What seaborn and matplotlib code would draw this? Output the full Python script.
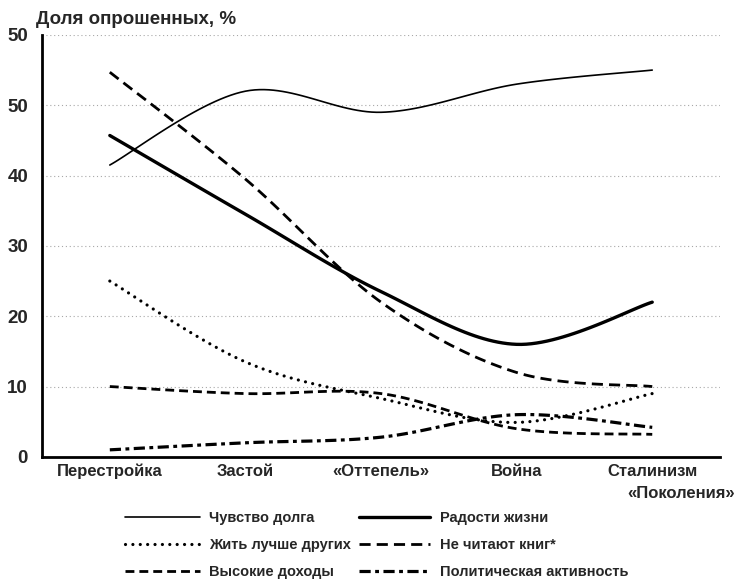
import matplotlib.pyplot as plt
import numpy as np
import seaborn as sns
from matplotlib.lines import Line2D

sns.set_style('white')
plt.rcParams['font.family'] = ['Liberation Sans', 'DejaVu Sans']
plt.rcParams['font.weight'] = 'bold'

generations = ['Перестройка', 'Застой', '«Оттепель»', 'Война', 'Сталинизм']
y_ticks = [0, 10, 20, 30, 40, 50, 60]
y_tick_labels = ['0', '10', '20', '30', '40', '50', '50']

duty = [41.5, 52, 49, 53, 55]
joy = [45.7, 34.5, 23.5, 16, 22]
live_better = [25, 13.5, 8.3, 4.9, 9]
no_books = [54.7, 39.5, 22, 12, 10]
high_income = [10, 9, 9, 4, 3.2]
politics = [1, 2, 2.8, 6, 4.2]

series = [
    ('Чувство долга', duty, dict(lw=1.2, ls='-')),
    ('Жить лучше других', live_better, dict(lw=2.3, ls=(0, (0.01, 2.3)), dash_capstyle='round')),
    ('Высокие доходы', high_income, dict(lw=2.0, ls=(0, (3.2, 1.8)))),
    ('Радости жизни', joy, dict(lw=2.4, ls='-')),
    ('Не читают книг*', no_books, dict(lw=2.0, ls=(0, (4.0, 2.2)))),
    ('Политическая активность', politics, dict(lw=2.3, ls=(0, (3.5, 1.4, 1.2, 1.4)))),
]


def smooth(values, n=30):
    # Excel-style smoothed line: cubic Bezier through the points
    p = np.column_stack([np.arange(len(values)), values]).astype(float)
    pts = np.vstack([p[0], p, p[-1]])
    xs, ys = [], []
    for i in range(1, len(pts) - 2):
        p0, p1, p2, p3 = pts[i - 1], pts[i], pts[i + 1], pts[i + 2]
        c1 = p1 + (p2 - p0) / 6
        c2 = p2 - (p3 - p1) / 6
        t = np.linspace(0, 1, n)[:, None]
        if i > 1:
            t = t[1:]
        b = (1 - t) ** 3 * p1 + 3 * (1 - t) ** 2 * t * c1 + 3 * (1 - t) * t ** 2 * c2 + t ** 3 * p2
        xs.extend(b[:, 0])
        ys.extend(b[:, 1])
    return np.array(xs), np.array(ys)


fig = plt.figure(figsize=(7.37, 5.82), dpi=100)
ax = fig.add_axes([0.057, 0.215, 0.92, 0.725])

for yv in y_ticks[1:]:
    ax.axhline(yv, color='#a8a8a8', lw=0.8, ls=(0, (1, 2.5)), zorder=0)

handles = []
for name, vals, style in series:
    xs, ys = smooth(vals)
    sns.lineplot(x=xs, y=ys, ax=ax, color='black', sort=False, estimator=None,
                 linestyle=style['ls'], linewidth=style['lw'],
                 dash_capstyle=style.get('dash_capstyle', 'butt'))
    handles.append(Line2D([], [], color='black', linestyle=style['ls'], linewidth=style['lw'],
                          dash_capstyle=style.get('dash_capstyle', 'butt'), label=name))

ax.set_xlim(-0.5, len(generations) - 0.5)
ax.set_ylim(0, 60)
ax.set_yticks(y_ticks)
ax.set_yticklabels(y_tick_labels, fontsize=13.5, fontweight='bold')
ax.set_xticks(range(len(generations)))
ax.set_xticklabels(generations, fontsize=12, fontweight='bold')
ax.set_xticks(np.arange(-0.5, len(generations)), minor=True)
ax.tick_params(axis='x', which='major', length=0, pad=5)
ax.tick_params(axis='x', which='minor', length=7, width=1.2, direction='out', color='black')
ax.tick_params(axis='y', length=5, width=1.2, direction='out', color='black', pad=5)

for side in ['top', 'right']:
    ax.spines[side].set_visible(False)
for side in ['left', 'bottom']:
    ax.spines[side].set_linewidth(2)
    ax.spines[side].set_color('black')

ax.set_xlabel('«Поколения»', fontsize=12, fontweight='bold')
ax.xaxis.set_label_coords(1.022, -0.07)
ax.xaxis.label.set_horizontalalignment('right')
ax.set_ylabel('')

fig.text(0.049, 0.966, 'Доля опрошенных, %', fontsize=13.5, fontweight='bold', ha='left', va='center')

fig.legend(handles=handles[:3], bbox_to_anchor=(0.17, 0.122), loc='upper left',
           frameon=False, prop={'size': 10.5, 'weight': 'bold'}, handlelength=5.1,
           handletextpad=0.65, labelspacing=0.88, borderaxespad=0, borderpad=0)
fig.legend(handles=handles[3:], bbox_to_anchor=(0.487, 0.122), loc='upper left',
           frameon=False, prop={'size': 10.5, 'weight': 'bold'}, handlelength=4.9,
           handletextpad=0.65, labelspacing=0.88, borderaxespad=0, borderpad=0)

fig.savefig('out.png', dpi=100)
